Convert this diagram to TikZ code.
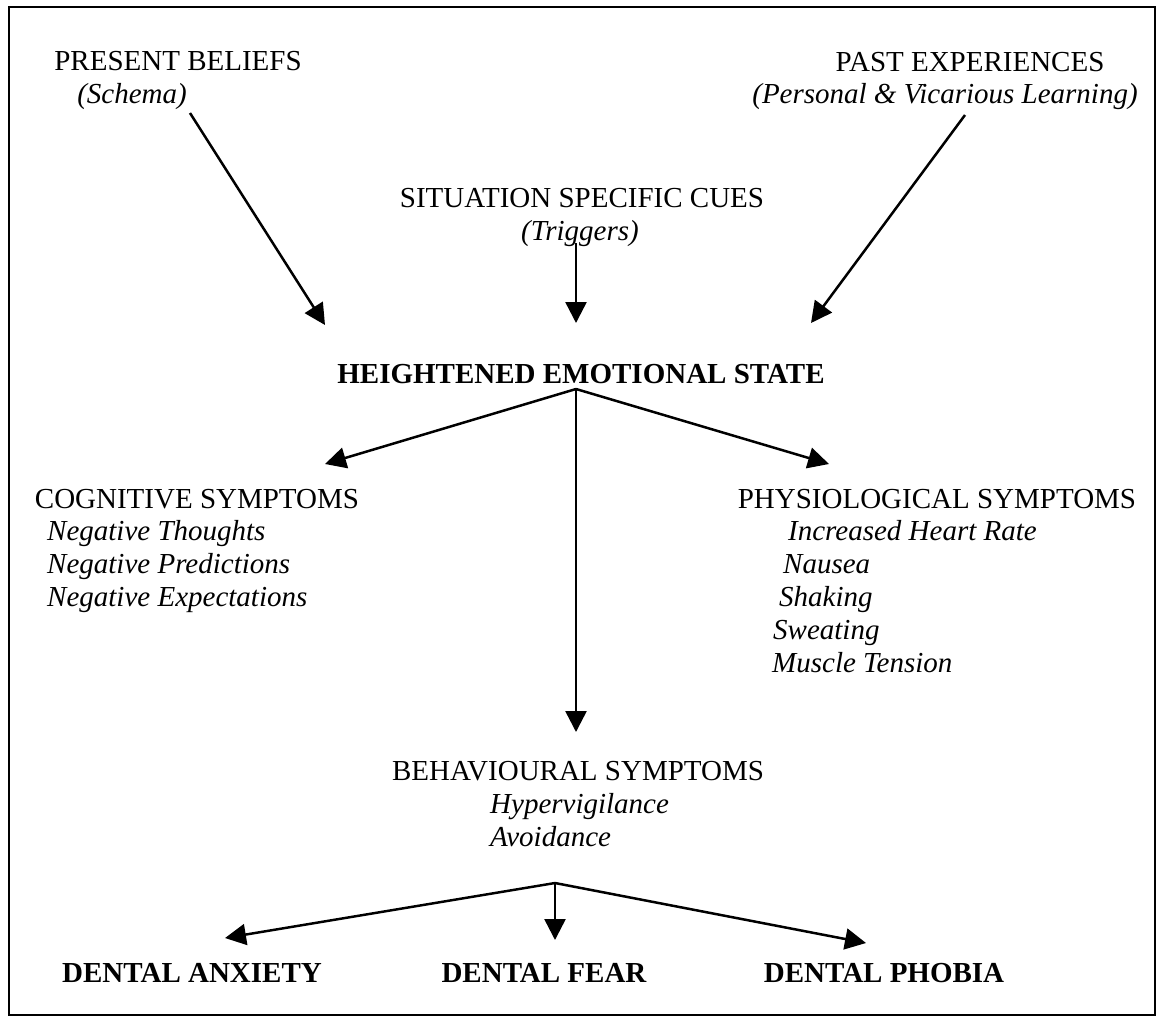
\documentclass[tikz,border=0pt]{standalone}
\usepackage{fontspec}
\setmainfont{Liberation Serif}
\usetikzlibrary{arrows.meta}
\begin{document}
\begin{tikzpicture}[x=1pt,y=-1pt,
  lbl/.style={anchor=base, inner sep=0pt, font=\fontsize{29}{34}\selectfont},
  itl/.style={anchor=base, inner sep=0pt, font=\fontsize{29}{34}\selectfont\itshape},
  itw/.style={anchor=base west, inner sep=0pt, font=\fontsize{29}{34}\selectfont\itshape},
  bld/.style={anchor=base, inner sep=0pt, font=\fontsize{29}{34}\selectfont\bfseries},
  arr/.style={line width=2.5pt, -{Triangle[length=21pt,width=21pt]}}]
\useasboundingbox (0,0) rectangle (1158,1018);
\draw[line width=2pt] (9,7) rectangle (1155,1015);
% top
\node[lbl] (pb) at (178,70) {PRESENT BELIEFS};
\node[itl] (sch) at (132,103) {(Schema)};
\node[lbl] (pe) at (970,71) {PAST EXPERIENCES};
\node[itl] (pvl) at (945,103) {(Personal \& Vicarious Learning)};
\node[lbl] (ssc) at (582,207) {SITUATION SPECIFIC CUES};
\node[itl] (trg) at (580,240) {(Triggers)};
\node[bld] (hes) at (581,383) {HEIGHTENED EMOTIONAL STATE};
% symptoms
\node[lbl] (cog) at (197,508) {COGNITIVE SYMPTOMS};
\node[itw] (c1) at (47,540) {Negative Thoughts};
\node[itw] (c2) at (47,573) {Negative Predictions};
\node[itw] (c3) at (47,606) {Negative Expectations};
\node[lbl] (phy) at (937,508) {PHYSIOLOGICAL SYMPTOMS};
\node[itw] (p1) at (788,540) {Increased Heart Rate};
\node[itw] (p2) at (783,573) {Nausea};
\node[itw] (p3) at (779,606) {Shaking};
\node[itw] (p4) at (773,639) {Sweating};
\node[itw] (p5) at (772,672) {Muscle Tension};
\node[lbl] (beh) at (578,780) {BEHAVIOURAL SYMPTOMS};
\node[itw] (b1) at (490,813) {Hypervigilance};
\node[itw] (b2) at (490,846) {Avoidance};
% outcomes
\node[bld] (da) at (192,982) {DENTAL ANXIETY};
\node[bld] (df) at (544,982) {DENTAL FEAR};
\node[bld] (dp) at (884,982) {DENTAL PHOBIA};
% connector points
\coordinate (s1) at (190,113);
\coordinate (t1) at (325,325);
\coordinate (s2) at (576,243);
\coordinate (t2) at (576,323);
\coordinate (s3) at (965,115);
\coordinate (t3) at (811,323);
\coordinate (ap) at (576,389);
\coordinate (tl) at (325,464);
\coordinate (tr) at (829,464);
\coordinate (tb) at (576,732);
\coordinate (bp) at (555,883);
\coordinate (ul) at (225,938);
\coordinate (um) at (555,940);
\coordinate (ur) at (866,943);
\draw[arr] (s1) -- (t1);
\draw[arr] (s2) -- (t2);
\draw[arr] (s3) -- (t3);
\draw[arr] (ap) -- (tl);
\draw[arr] (ap) -- (tr);
\draw[arr] (ap) -- (tb);
\draw[arr] (bp) -- (ul);
\draw[arr] (bp) -- (um);
\draw[arr] (bp) -- (ur);
\end{tikzpicture}
\end{document}
